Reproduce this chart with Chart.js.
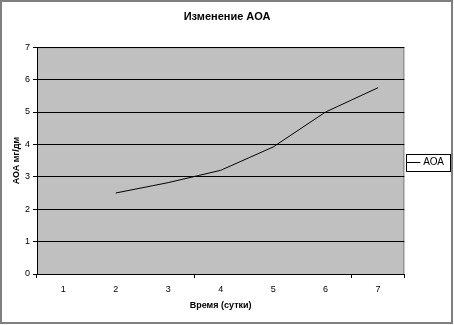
<!DOCTYPE html>
<html>
<head>
<meta charset="utf-8">
<script src="https://cdn.jsdelivr.net/npm/chart.js@4/dist/chart.umd.min.js"></script>
<style>
html,body{margin:0;padding:0;background:#fff;}
#wrap{position:relative;width:454px;height:325px;}
</style>
</head>
<body>
<div id="wrap"><canvas id="c" width="454" height="325"></canvas></div>
<script>
const chartTitle = "Изменение АОА";
const xTitle = "Время (сутки)";
const yTitle = "АОА мг/дм";
const categories = ["1", "2", "3", "4", "5", "6", "7"];
const seriesName = "АОА";
const seriesValues = [null, 2.5, 2.82, 3.2, 3.92, 5.0, 5.75];
const yTicks = [0, 1, 2, 3, 4, 5, 6, 7];

const FONT = "'Liberation Sans', Arial, sans-serif";

const framePlugin = {
  id: 'frame',
  beforeDraw(chart) {
    const {ctx, chartArea: a} = chart;
    ctx.save();
    ctx.fillStyle = '#ffffff';
    ctx.fillRect(0, 0, chart.width, chart.height);
    ctx.fillStyle = '#c0c0c0';
    ctx.fillRect(a.left, a.top, a.right - a.left, a.bottom - a.top);
    ctx.strokeStyle = '#808080';
    ctx.lineWidth = 1;
    ctx.strokeRect(a.left + 0.5, a.top + 0.5, a.right - a.left - 1, a.bottom - a.top);
    ctx.restore();
  },
  afterDraw(chart) {
    const {ctx, chartArea: a} = chart;
    ctx.save();
    ctx.strokeStyle = '#7f7f7f';
    ctx.lineWidth = 2;
    ctx.strokeRect(1, 1, 451, 322);
    const lg = chart.legend;
    if (lg && lg.legendHitBoxes && lg.legendHitBoxes.length) {
      const hb = lg.legendHitBoxes[0];
      ctx.strokeStyle = '#000';
      ctx.lineWidth = 1;
      const l = Math.round(a.right) + 2.5;
      ctx.strokeRect(l, Math.round(hb.top) - 3.5, 450.5 - l, Math.round(hb.height) + 7);
    }
    ctx.restore();
  }
};

new Chart(document.getElementById('c'), {
  type: 'line',
  data: {
    labels: categories,
    datasets: [{
      label: seriesName,
      data: seriesValues,
      borderColor: '#000000',
      backgroundColor: '#000000',
      borderWidth: 1,
      pointRadius: 0,
      tension: 0,
      fill: false
    }]
  },
  plugins: [framePlugin],
  options: {
    responsive: false,
    animation: false,
    devicePixelRatio: 1,
    layout: {padding: {left: 0, right: 0, top: 0, bottom: 0}},
    plugins: {
      title: {
        display: true,
        text: chartTitle,
        color: '#000',
        font: {family: FONT, size: 11, weight: 'bold'},
        padding: {top: 10, bottom: 24}
      },
      legend: {
        display: true,
        position: 'right',
        align: 'center',
        labels: {
          color: '#000',
          font: {family: FONT, size: 10},
          usePointStyle: true,
          pointStyle: 'line',
          boxWidth: 15,
          padding: 4
        }
      },
      tooltip: {enabled: false}
    },
    scales: {
      x: {
        type: 'category',
        offset: true,
        afterFit(s) { s.height = 51; },
        title: {
          display: true,
          text: xTitle,
          color: '#000',
          font: {family: FONT, size: 9, weight: 'bold'},
          padding: {top: 0, bottom: 14}
        },
        grid: {
          display: true,
          offset: true,
          drawOnChartArea: false,
          drawTicks: true,
          tickLength: 4,
          color: (ctx) => (ctx.index === undefined || ctx.index % 3 === 0) ? '#000' : 'rgba(0,0,0,0)'
        },
        border: {display: true, color: '#000', width: 1},
        ticks: {
          color: '#000',
          font: {family: FONT, size: 9},
          padding: 6,
          maxRotation: 0,
          autoSkip: false
        }
      },
      y: {
        min: yTicks[0],
        max: yTicks[yTicks.length - 1],
        afterFit(s) { s.width = 37; },
        afterBuildTicks(s) { s.ticks = yTicks.map(v => ({value: v})); },
        title: {
          display: true,
          text: yTitle,
          color: '#000',
          font: {family: FONT, size: 9, weight: 'bold'},
          padding: {top: 11, bottom: 0}
        },
        grid: {
          display: true,
          color: '#000',
          lineWidth: 1,
          drawTicks: true,
          tickLength: 4
        },
        border: {display: true, color: '#000', width: 1},
        ticks: {
          color: '#000',
          font: {family: FONT, size: 9},
          padding: 3,
          stepSize: 1
        }
      }
    }
  }
});
</script>
</body>
</html>
